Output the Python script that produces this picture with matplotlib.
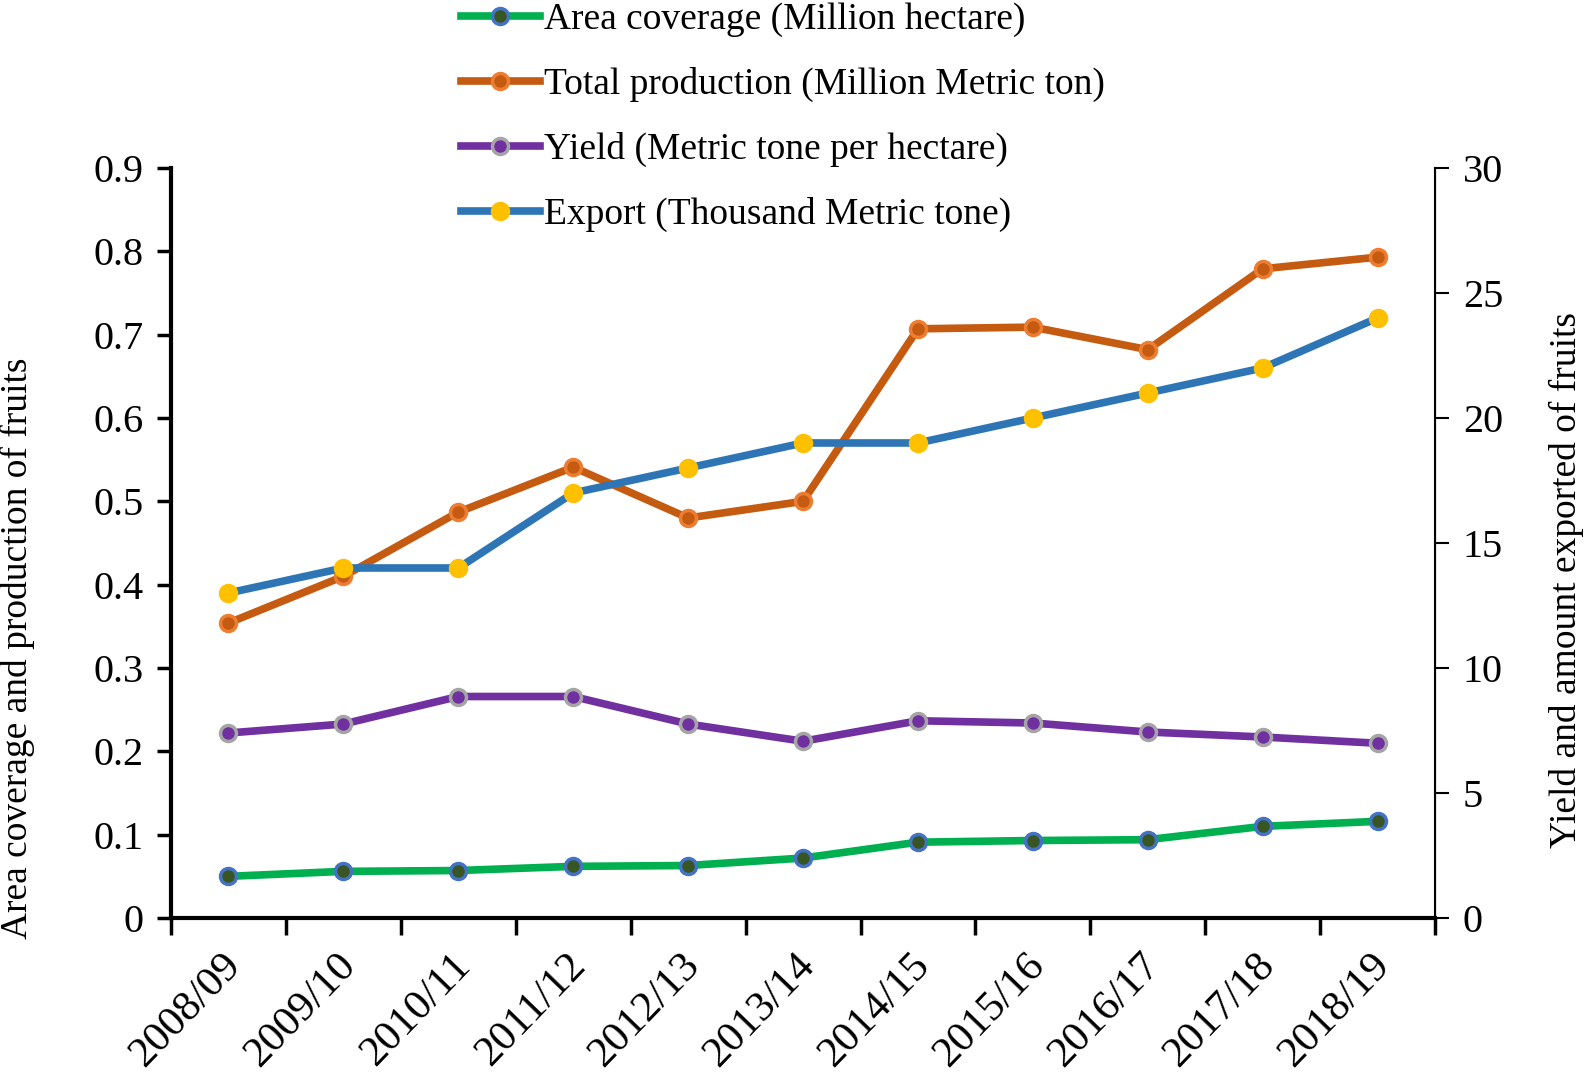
import numpy as np
import matplotlib
matplotlib.use("Agg")
from matplotlib import pyplot as plt
from matplotlib import transforms

plt.rcParams['font.family'] = ['Liberation Serif', 'DejaVu Serif']

years = ["2008/09", "2009/10", "2010/11", "2011/12", "2012/13", "2013/14",
         "2014/15", "2015/16", "2016/17", "2017/18", "2018/19"]
area = [0.050, 0.056, 0.057, 0.062, 0.063, 0.072, 0.091, 0.093, 0.094, 0.110, 0.116]
production = [0.354, 0.410, 0.487, 0.541, 0.480, 0.500, 0.707, 0.709, 0.682, 0.779, 0.793]
yld = [7.40, 7.76, 8.86, 8.86, 7.76, 7.07, 7.89, 7.80, 7.44, 7.24, 6.99]
export = [13.0, 14.0, 14.0, 17.0, 18.0, 19.0, 19.0, 20.0, 21.0, 22.0, 24.0]

fig = plt.figure(figsize=(15.94, 10.78), dpi=100)
ax = fig.add_axes([0.1073, 0.1484, 0.7930, 0.6958])
ax2 = ax.twinx()

x = np.arange(len(years))
lw = 5.5
ms = 11.5
l1, = ax.plot(x, area, color='#00B050', lw=lw, marker='o', ms=ms,
              mfc='#375623', mec='#4472C4', mew=2.5)
l2, = ax.plot(x, production, color='#C55A11', lw=lw, marker='o', ms=ms,
              mfc='#C55A11', mec='#ED7D31', mew=2.5)
l3, = ax2.plot(x, yld, color='#7030A0', lw=lw, marker='o', ms=ms,
               mfc='#7030A0', mec='#A5A5A5', mew=2.5)
l4, = ax2.plot(x, export, color='#2E75B6', lw=lw, marker='o', ms=ms,
               mfc='#FFC000', mec='#FFC000', mew=2.5)

ax.set_xlim(-0.5, len(years) - 0.5)
ax.set_ylim(0, 0.9)
ax2.set_ylim(0, 30)
ax.set_yticks(np.arange(0, 0.91, 0.1))
ax.set_yticklabels(["0"] + ["%.1f" % v for v in np.arange(0.1, 0.91, 0.1)])
ax2.set_yticks(np.arange(0, 31, 5))

# category boundaries get tick marks, labels sit at the centres
ax.set_xticks(np.arange(-0.5, len(years), 1.0))
ax.set_xticklabels([])
ax.set_xticks(x, minor=True)
ax.set_xticklabels(years, minor=True, rotation=46, ha='right',
                   rotation_mode='anchor', fontsize=31)
ax.tick_params(axis='x', which='minor', length=0, pad=20)
ax.tick_params(axis='x', which='major', length=12, width=2.5, direction='out')
ax.tick_params(axis='y', length=10, width=2.5, labelsize=29, pad=10)
ax2.tick_params(axis='y', length=10, width=1.5, labelsize=29, pad=10)
shift = transforms.ScaledTranslation(-8 / 100, 0, fig.dpi_scale_trans)
for lab in ax.get_xticklabels(minor=True):
    lab.set_transform(lab.get_transform() + shift)

for a in (ax, ax2):
    a.spines['top'].set_visible(False)
ax.spines['left'].set_linewidth(3)
ax.spines['bottom'].set_linewidth(3)
ax2.spines['right'].set_linewidth(1.5)
ax2.spines['left'].set_visible(False)
ax2.spines['bottom'].set_visible(False)

fig.text(0.011, 0.399, "Area coverage and production of fruits", rotation=90,
         fontsize=27, ha='center', va='center')
fig.text(0.983, 0.462, "Yield and amount exported of fruits", rotation=90,
         fontsize=27, ha='center', va='center')

fig.legend([l1, l2, l3, l4],
           ["Area coverage (Million hectare)",
            "Total production (Million Metric ton)",
            "Yield (Metric tone per hectare)",
            "Export (Thousand Metric tone)"],
           loc='upper left', bbox_to_anchor=(0.268, 1.029), frameon=False,
           fontsize=27, handlelength=2.1, handletextpad=0.12, labelspacing=0.80)

fig.savefig("out.png", dpi=100)
